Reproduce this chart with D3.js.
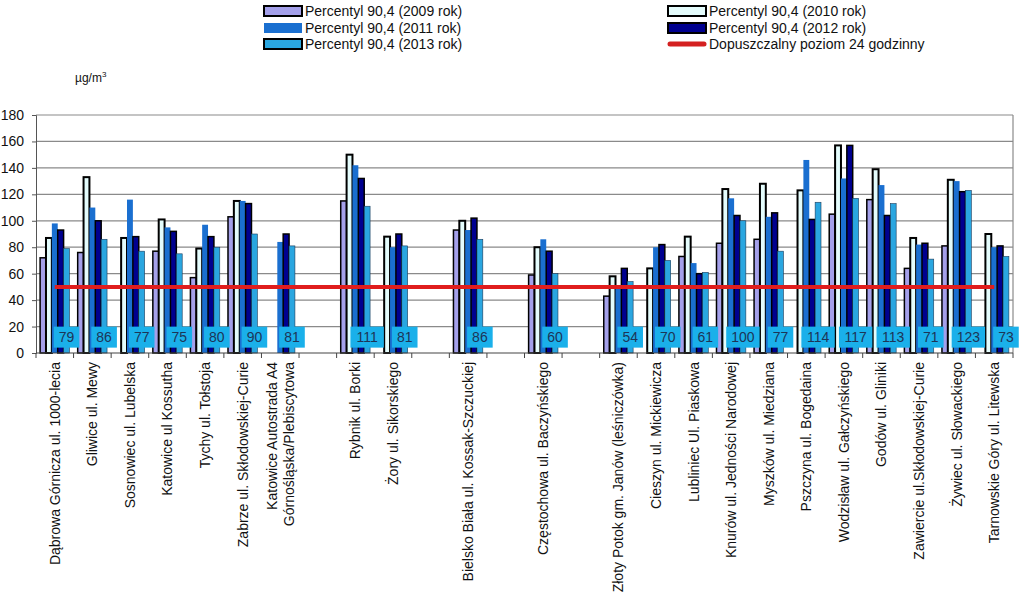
<!DOCTYPE html>
<html>
<head>
<meta charset="utf-8">
<script src="https://cdn.jsdelivr.net/npm/d3@7/dist/d3.min.js"></script>
<style>
  body { margin: 0; background: #fff; }
  text { font-family: "Liberation Sans", Arial, sans-serif; }
</style>
</head>
<body>
<div id="graph"></div>
<script>
// categories ("" = empty slot on the axis, "\n" = line break)
var categories = [
    'Dąbrowa Górnicza ul. 1000-lecia', 'Gliwice ul. Mewy', 'Sosnowiec ul. Lubelska',
    'Katowice ul Kossutha', 'Tychy ul. Tołstoja', 'Zabrze ul. Skłodowskiej-Curie',
    'Katowice Autostrada A4\nGórnośląska/Plebiscytowa', '', 'Rybnik ul. Borki',
    'Żory ul. Sikorskiego', '', 'Bielsko Biała ul. Kossak-Szczuckiej', '',
    'Częstochowa ul. Baczyńskiego', '', 'Złoty Potok gm. Janów (leśniczówka)',
    'Cieszyn ul. Mickiewicza', 'Lubliniec Ul. Piaskowa', 'Knurów ul. Jedności Narodowej',
    'Myszków ul. Miedziana', 'Pszczyna ul. Bogedaina', 'Wodzisław ul. Gałczyńskiego',
    'Godów ul. Gliniki', 'Zawiercie ul.Skłodowskiej-Curie', 'Żywiec ul. Słowackiego',
    'Tarnowskie Góry ul. Litewska'
];

var p2009 = [72, 76, null, 77, 57, 103, null, null, 115, null, null, 93, null, 59, null, 43, null, 73, 83, 86, null, 105, 116, 64, 81, null];
var p2010 = [87, 133, 87, 101, 79, 115, null, null, 150, 88, null, 100, null, 80, null, 58, 64, 88, 124, 128, 123, 157, 139, 87, 131, 90];
var p2011 = [98, 110, 116, 95, 97, 115, 84, null, 142, 80, null, 93, null, 86, null, 50, 80, 68, 117, 103, 146, 132, 127, 82, 130, 80];
var p2012 = [93, 100, 88, 92, 88, 113, 90, null, 132, 90, null, 102, null, 77, null, 64, 82, 60, 104, 106, 101, 157, 104, 83, 122, 81];
var p2013 = [79, 86, 77, 75, 80, 90, 81, null, 111, 81, null, 86, null, 60, null, 54, 70, 61, 100, 77, 114, 117, 113, 71, 123, 73];

var limit = 50;
var yTicks = [0, 20, 40, 60, 80, 100, 120, 140, 160, 180];

var series = [
    { name: 'Percentyl 90,4 (2009 rok)', values: p2009, fill: '#a4a0ea', stroke: '#000', sw: 1.5 },
    { name: 'Percentyl 90,4 (2010 rok)', values: p2010, fill: '#e4fcfc', stroke: '#000', sw: 2 },
    { name: 'Percentyl 90,4 (2011 rok)', values: p2011, fill: '#1a6fd0', stroke: 'none', sw: 0 },
    { name: 'Percentyl 90,4 (2012 rok)', values: p2012, fill: '#00008f', stroke: '#000', sw: 1.5 },
    { name: 'Percentyl 90,4 (2013 rok)', values: p2013, fill: '#2aa6e0', stroke: '#1b3b5a', sw: 0.6 }
];

var width = 1024, height = 604;
var pLeft = 36, pRight = 1013, pTop = 115, pBottom = 353;

var svg = d3.select('#graph')
    .append('svg')
        .attr('width', width)
        .attr('height', height);

var x = d3.scaleBand()
    .domain(d3.range(categories.length))
    .range([pLeft, pRight]);

var x1 = d3.scaleBand()
    .domain(d3.range(series.length))
    .range([0, x.bandwidth()])
    .paddingOuter(0.7);

var y = d3.scaleLinear()
    .domain([0, 180])
    .range([pBottom, pTop]);

// grid
svg.append('g')
    .selectAll('line')
    .data(yTicks.slice(1)).enter().append('line')
    .attr('x1', pLeft).attr('x2', pRight)
    .attr('y1', d => y(d)).attr('y2', d => y(d))
    .attr('stroke', '#8a8a8a')
    .attr('stroke-width', 1.2);

svg.append('line')
    .attr('x1', pRight).attr('x2', pRight)
    .attr('y1', pTop).attr('y2', pBottom)
    .attr('stroke', '#8a8a8a').attr('stroke-width', 1.2);

// y axis
var yAxis = svg.append('g')
    .attr('transform', 'translate(' + pLeft + ',0)')
    .call(d3.axisLeft(y).tickValues(yTicks).tickSize(4).tickPadding(8));
yAxis.selectAll('text').style('font-size', '14px').attr('fill', '#111');
yAxis.selectAll('line, path').attr('stroke', '#555');

// bars
var groups = svg.append('g')
    .selectAll('g')
    .data(categories).enter().append('g')
    .attr('transform', (d, i) => 'translate(' + x(i) + ',0)');

groups.selectAll('rect')
    .data((d, i) => series.map((s, j) => ({ j: j, v: s.values[i], s: s })).filter(d => d.v != null))
    .enter().append('rect')
    .attr('x', d => x1(d.j))
    .attr('width', x1.bandwidth())
    .attr('y', d => y(d.v))
    .attr('height', d => y(0) - y(d.v))
    .attr('fill', d => d.s.fill)
    .attr('stroke', d => d.s.stroke)
    .attr('stroke-width', d => d.s.sw);

// x axis
var xAxis = svg.append('g')
    .attr('transform', 'translate(0,' + pBottom + ')');
xAxis.append('line')
    .attr('x1', pLeft).attr('x2', pRight)
    .attr('stroke', '#444').attr('stroke-width', 1.2);
xAxis.selectAll('.tk')
    .data(d3.range(categories.length + 1)).enter().append('line')
    .attr('x1', d => pLeft + d * x.step()).attr('x2', d => pLeft + d * x.step())
    .attr('y1', 0).attr('y2', 5)
    .attr('stroke', '#444');

// limit line
svg.append('line')
    .attr('x1', x(0) + x.bandwidth() / 2)
    .attr('x2', x(categories.length - 1) + x.bandwidth() / 2)
    .attr('y1', y(limit)).attr('y2', y(limit))
    .attr('stroke', '#e01d1d')
    .attr('stroke-width', 4);

// 2013 value labels
var lab = svg.append('g')
    .selectAll('g')
    .data(p2013.map((v, i) => ({ v: v, i: i })).filter(d => d.v != null))
    .enter().append('g')
    .attr('transform', d => 'translate(' + (x(d.i) + x1(4) + x1.bandwidth() / 2) + ',' + y(12) + ')');
lab.append('rect')
    .attr('x', d => -(String(d.v).length * 7.8 + 10) / 2)
    .attr('width', d => String(d.v).length * 7.8 + 10)
    .attr('y', -10.5)
    .attr('height', 21)
    .attr('fill', '#1ab0ea');
lab.append('text')
    .attr('text-anchor', 'middle')
    .attr('dy', '0.36em')
    .style('font-size', '14px')
    .attr('fill', '#1d3557')
    .text(d => d.v);

// category labels
var cl = svg.append('g')
    .selectAll('text')
    .data(categories).enter().append('text')
    .attr('transform', (d, i) => 'translate(' + (x(i) + x.bandwidth() / 2) + ',362) rotate(-90)')
    .attr('text-anchor', 'end')
    .style('font-size', '14px')
    .attr('fill', '#111');
cl.each(function(d) {
    var lines = d.split('\n');
    var t = d3.select(this);
    lines.forEach(function(l, k) {
        t.append('tspan')
            .attr('x', 0)
            .attr('y', (k - (lines.length - 1) / 2) * 17)
            .attr('dy', '0.35em')
            .text(l);
    });
});

// unit
var unit = svg.append('text')
    .attr('x', 75).attr('y', 82)
    .style('font-size', '12px')
    .attr('fill', '#111');
unit.append('tspan').text('µg/m');
unit.append('tspan').attr('dy', -5).style('font-size', '8px').text('3');

// LEGEND ----------------------------------------------------------------
var legendItems = [
    { s: series[0], col: 0, row: 0 },
    { s: series[1], col: 1, row: 0 },
    { s: series[2], col: 0, row: 1 },
    { s: series[3], col: 1, row: 1 },
    { s: series[4], col: 0, row: 2 }
];
var colX = [264, 668], rowY = [11, 28, 44];

var legend = svg.append('g');
legendItems.forEach(function(it) {
    var g = legend.append('g')
        .attr('transform', 'translate(' + colX[it.col] + ',' + rowY[it.row] + ')');
    g.append('rect')
        .attr('x', 0).attr('y', -5)
        .attr('width', 38).attr('height', 10)
        .attr('fill', it.s.fill)
        .attr('stroke', it.s.stroke === 'none' ? 'none' : '#000')
        .attr('stroke-width', 2);
    g.append('text')
        .attr('x', 41).attr('dy', '0.35em')
        .style('font-size', '14px')
        .attr('fill', '#111')
        .text(it.s.name);
});
var lg = legend.append('g')
    .attr('transform', 'translate(' + colX[1] + ',' + rowY[2] + ')');
lg.append('line')
    .attr('x1', 2).attr('x2', 36)
    .attr('stroke', '#d42020')
    .attr('stroke-width', 5)
    .attr('stroke-linecap', 'round');
lg.append('text')
    .attr('x', 41).attr('dy', '0.35em')
    .style('font-size', '14px')
    .attr('fill', '#111')
    .text('Dopuszczalny poziom 24 godzinny');
</script>
</body>
</html>
